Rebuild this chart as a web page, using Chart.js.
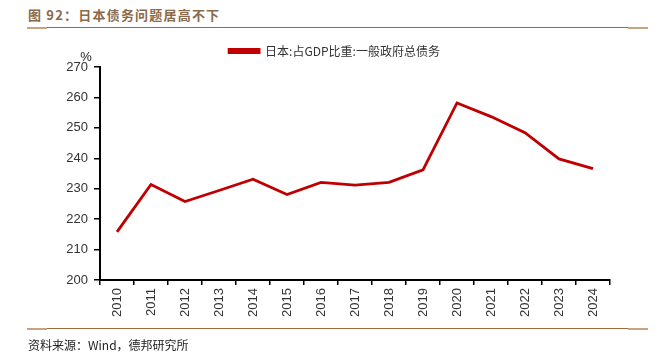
<!DOCTYPE html>
<html>
<head>
<meta charset="utf-8">
<script src="https://cdn.jsdelivr.net/npm/chart.js@4.4.1/dist/chart.umd.min.js"></script>
<style>
  html, body { margin: 0; padding: 0; background: #fff; }
  #wrap { position: relative; width: 669px; height: 353px; overflow: hidden; }
  #c { position: absolute; left: 0; top: 0; }
  .title { position: absolute; left: 28px; top: 5px; font: bold 13px "Noto Sans CJK SC", sans-serif; color: #8a6a4a; letter-spacing: 1.2px; }
  .rule { position: absolute; height: 1px; background: #9c6b3c; }
  .cap { position: absolute; height: 2px; background: #c9a27e; }
  .src { position: absolute; left: 28px; top: 336px; font: 12px "Noto Sans CJK SC", sans-serif; color: #222; }
</style>
</head>
<body>
<div id="wrap">
  <div class="title">图 92：日本债务问题居高不下</div>
  <div class="rule" style="left:27px; top:27px; width:621px;"></div>
  <div class="cap" style="left:27px; top:27px; width:20px;"></div>
  <div class="cap" style="left:628px; top:27px; width:20px;"></div>
  <canvas id="c" width="669" height="353"></canvas>
  <div class="rule" style="left:27px; top:328px; width:621px;"></div>
  <div class="cap" style="left:27px; top:328px; width:20px;"></div>
  <div class="cap" style="left:628px; top:328px; width:20px;"></div>
  <div class="src">资料来源：Wind，德邦研究所</div>
</div>
<script>
const years = ['2010','2011','2012','2013','2014','2015','2016','2017','2018','2019','2020','2021','2022','2023','2024'];
const debtRatio = [215.8, 231.4, 225.8, 229.4, 233.1, 228.1, 232.1, 231.2, 232.1, 236.2, 258.2, 253.7, 248.4, 239.8, 236.6];
const seriesName = '日本:占GDP比重:一般政府总债务';
const yTicks = [200, 210, 220, 230, 240, 250, 260, 270];

const percentLabel = {
  id: 'percentLabel',
  afterDraw(chart) {
    const ctx = chart.ctx;
    const y = chart.scales.y;
    ctx.save();
    ctx.font = '13px "Liberation Sans", Arial, sans-serif';
    ctx.fillStyle = '#222';
    ctx.textAlign = 'center';
    ctx.textBaseline = 'bottom';
    ctx.fillText('%', 86, y.top - 3);
    ctx.restore();
  }
};

const centerLegend = {
  id: 'centerLegend',
  afterLayout(chart) {
    const lg = chart.legend;
    if (lg) { lg.left = 0; lg.right = chart.width; lg.width = chart.width; }
  }
};

new Chart(document.getElementById('c'), {
  type: 'line',
  data: {
    labels: years,
    datasets: [{
      label: seriesName,
      data: debtRatio,
      borderColor: '#c00000',
      backgroundColor: '#c00000',
      borderWidth: 2.8,
      pointRadius: 0,
      tension: 0,
      fill: false
    }]
  },
  options: {
    responsive: false,
    animation: false,
    devicePixelRatio: 1,
    layout: { padding: { top: 38, right: 59, left: 0, bottom: 0 } },
    plugins: {
      legend: {
        display: true,
        position: 'top',
        labels: {
          boxWidth: 30,
          boxHeight: 3,
          padding: 7,
          color: '#333',
          font: { family: '"Noto Sans CJK SC", sans-serif', size: 12 }
        }
      },
      tooltip: { enabled: false }
    },
    scales: {
      x: {
        offset: true,
        grid: { offset: true, drawOnChartArea: false, drawTicks: true, tickLength: 5, color: '#000', lineWidth: 1.5 },
        border: { color: '#000', width: 2 },
        ticks: {
          minRotation: 90, maxRotation: 90, autoSkip: false, padding: 3,
          color: '#333',
          font: { family: '"Liberation Sans", Arial, sans-serif', size: 13 }
        },
        afterFit(scale) { scale.height = 73; }
      },
      y: {
        min: 200, max: 270,
        afterBuildTicks(scale) { scale.ticks = yTicks.map(v => ({ value: v })); },
        grid: { drawOnChartArea: false, drawTicks: true, tickLength: 6, color: '#000', lineWidth: 1.5 },
        border: { color: '#000', width: 2 },
        ticks: {
          padding: 6,
          color: '#333',
          font: { family: '"Liberation Sans", Arial, sans-serif', size: 13 }
        },
        afterFit(scale) { scale.width = 100; }
      }
    }
  },
  plugins: [percentLabel, centerLegend]
});
</script>
</body>
</html>
